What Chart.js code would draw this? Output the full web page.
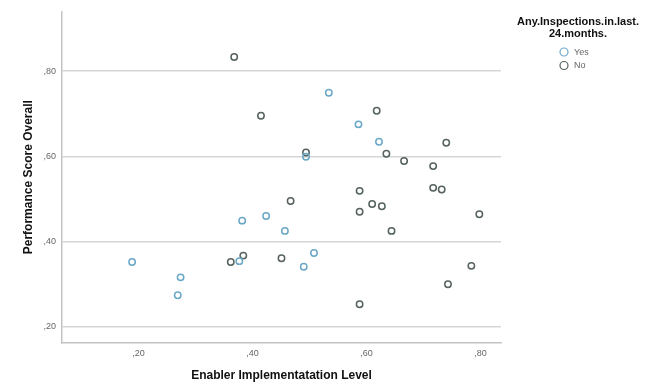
<!DOCTYPE html>
<html>
<head>
<meta charset="utf-8">
<script src="https://cdn.jsdelivr.net/npm/chart.js@4"></script>
<style>
  body { margin: 0; background: #fff; }
  #wrap { width: 668px; height: 390px; }
</style>
</head>
<body>
<div id="wrap"><canvas id="chart" width="668" height="390"></canvas></div>
<script>
// values
const yesX = [0.534, 0.494, 0.586, 0.622, 0.382, 0.424, 0.457, 0.189, 0.274, 0.269, 0.377, 0.490, 0.508];
const yesY = [0.749, 0.599, 0.675, 0.634, 0.449, 0.460, 0.425, 0.352, 0.316, 0.274, 0.354, 0.341, 0.373];
const noX = [0.368, 0.415, 0.494, 0.618, 0.635, 0.666, 0.717, 0.740, 0.588, 0.717, 0.732, 0.610,
             0.627, 0.588, 0.798, 0.644, 0.784, 0.743, 0.588, 0.467, 0.362, 0.384, 0.451];
const noY = [0.833, 0.695, 0.609, 0.707, 0.606, 0.589, 0.577, 0.632, 0.519, 0.526, 0.522, 0.488,
             0.483, 0.470, 0.464, 0.425, 0.343, 0.300, 0.253, 0.495, 0.352, 0.367, 0.361];
const xTicks = [0.2, 0.4, 0.6, 0.8];
const yTicks = [0.2, 0.4, 0.6, 0.8];
const seriesNames = ['Yes', 'No'];
const legendTitle = ['Any.Inspections.in.last.', '24.months.'];

const YES_COLOR = '#6ba7c7';
const NO_COLOR = '#55625d';

const toPoints = (xs, ys) => xs.map((x, i) => ({ x: x, y: ys[i] }));
const fmt = v => ',' + Math.round(v * 100).toString().padStart(2, '0');

// legend drawn by hand, to the right of the plot
const sideLegend = {
    id: 'sideLegend',
    afterDraw(chart) {
        const ctx = chart.ctx;
        ctx.save();
        ctx.fillStyle = '#111';
        ctx.font = 'bold 11px "Liberation Sans", Arial, sans-serif';
        ctx.textAlign = 'center';
        ctx.textBaseline = 'middle';
        ctx.fillText(legendTitle[0], 578, 22);
        ctx.fillText(legendTitle[1], 578, 34);
        ctx.font = '9px "Liberation Sans", Arial, sans-serif';
        ctx.textAlign = 'left';
        chart.data.datasets.forEach((ds, i) => {
            const y = 52 + i * 13.5;
            ctx.beginPath();
            ctx.arc(564, y, 4, 0, Math.PI * 2);
            ctx.strokeStyle = ds.borderColor;
            ctx.lineWidth = 1.2;
            ctx.stroke();
            ctx.fillStyle = '#666';
            ctx.fillText(ds.label, 574, y + 0.5);
        });
        ctx.restore();
    }
};

new Chart(document.getElementById('chart'), {
    type: 'scatter',
    data: {
        datasets: [{
            label: seriesNames[0],
            data: toPoints(yesX, yesY),
            borderColor: YES_COLOR,
            backgroundColor: 'rgba(255,255,255,0)',
            pointRadius: 3.2,
            borderWidth: 1.5
        }, {
            label: seriesNames[1],
            data: toPoints(noX, noY),
            borderColor: NO_COLOR,
            backgroundColor: 'rgba(255,255,255,0)',
            pointRadius: 3.2,
            borderWidth: 1.5
        }]
    },
    options: {
        responsive: false,
        animation: false,
        layout: { padding: { top: 10, right: 167, left: 0, bottom: 0 } },
        plugins: {
            legend: { display: false },
            tooltip: { enabled: false }
        },
        scales: {
            x: {
                type: 'linear',
                min: 0.066,
                max: 0.836,
                afterBuildTicks: s => { s.ticks = xTicks.map(v => ({ value: v })); },
                afterFit: s => { s.height = 47; },
                grid: { display: false, drawTicks: false },
                border: { display: true, color: '#c4c4c4', width: 1.5 },
                ticks: {
                    padding: 5,
                    color: '#666',
                    font: { size: 9, family: '"Liberation Sans", Arial, sans-serif' },
                    callback: v => fmt(v)
                },
                title: {
                    display: true,
                    text: 'Enabler Implementatation Level',
                    color: '#111',
                    font: { size: 12, weight: 'bold', family: '"Liberation Sans", Arial, sans-serif' },
                    padding: { top: 0, bottom: 7 }
                }
            },
            y: {
                type: 'linear',
                min: 0.162,
                max: 0.94,
                afterBuildTicks: s => { s.ticks = yTicks.map(v => ({ value: v })); },
                afterFit: s => { s.width = 62; },
                grid: { color: '#d6d6d6', lineWidth: 1.5, drawTicks: false },
                border: { display: true, color: '#c4c4c4', width: 1.5 },
                ticks: {
                    padding: 6,
                    color: '#666',
                    font: { size: 9, family: '"Liberation Sans", Arial, sans-serif' },
                    callback: v => fmt(v)
                },
                title: {
                    display: true,
                    text: 'Performance Score Overall',
                    color: '#111',
                    font: { size: 12, weight: 'bold', family: '"Liberation Sans", Arial, sans-serif' },
                    padding: { top: 21, bottom: 0 }
                }
            }
        }
    },
    plugins: [sideLegend]
});
</script>
</body>
</html>
